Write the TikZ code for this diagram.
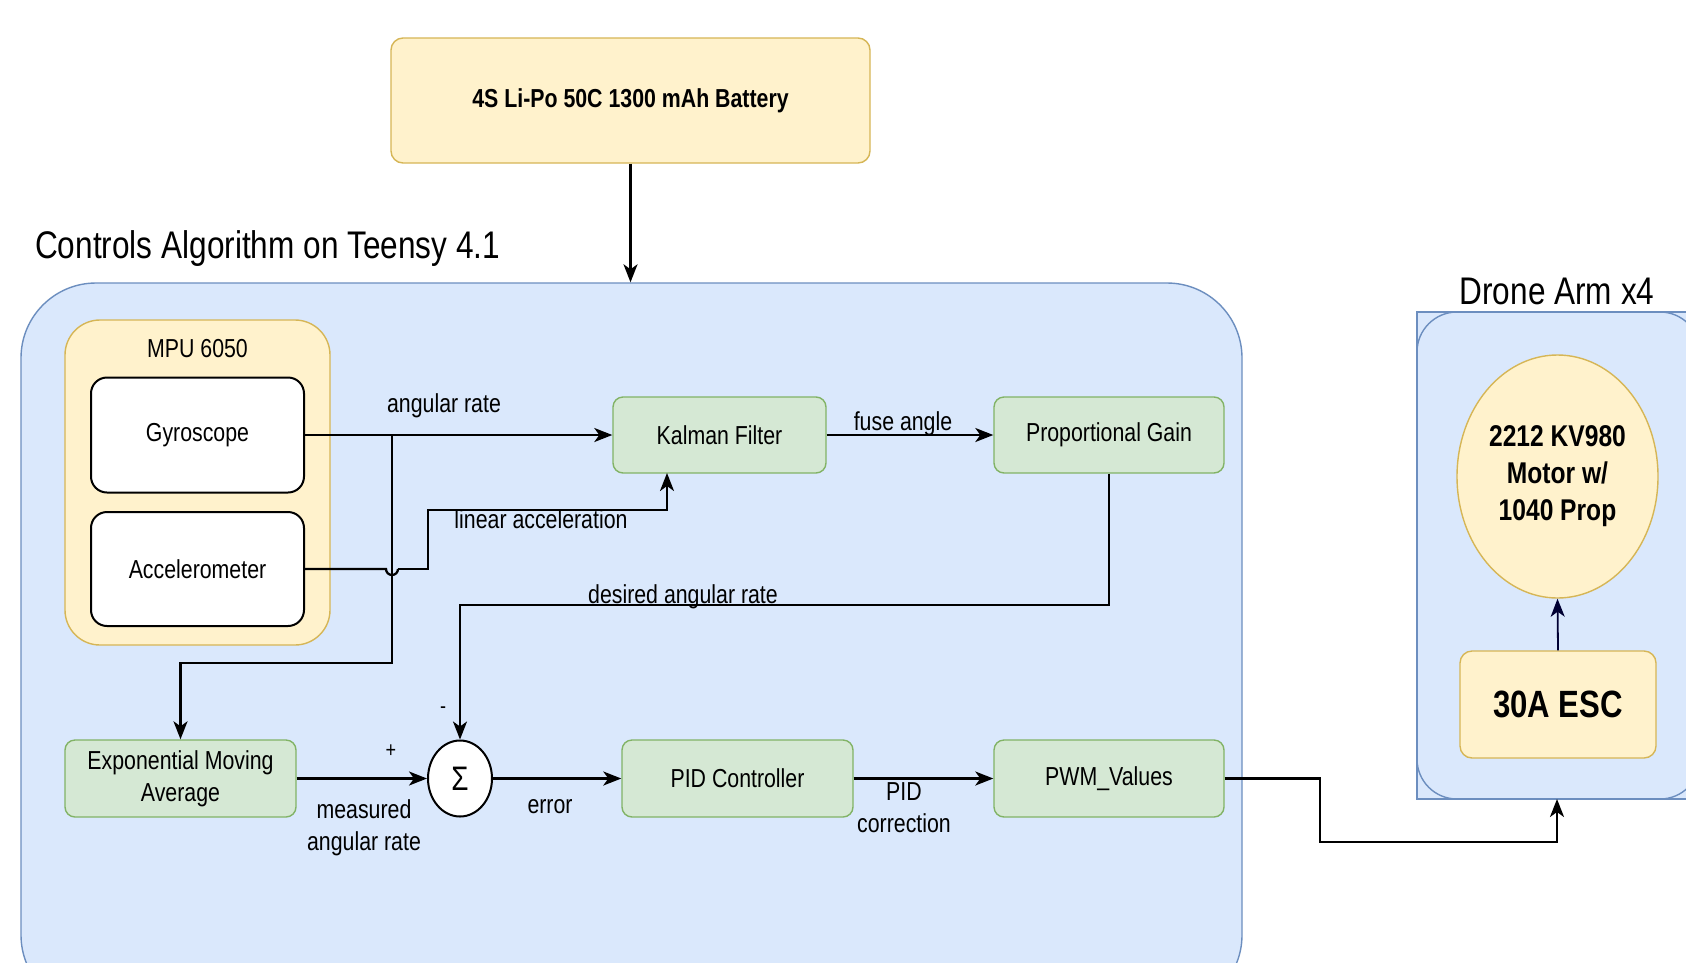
\documentclass[tikz,border=0pt]{standalone}
\usepackage{fontspec}
\setmainfont{Liberation Sans}[FakeStretch=0.82]
\usetikzlibrary{arrows.meta,shapes.geometric,calc}
\definecolor{yfill}{HTML}{FFF2CC}
\definecolor{ydraw}{HTML}{D6B656}
\definecolor{gfill}{HTML}{D5E8D4}
\definecolor{gdraw}{HTML}{82B366}
\definecolor{bfill}{HTML}{DAE8FC}
\definecolor{bdraw}{HTML}{6C8EBF}
\tikzset{
  every node/.style={font=\fontsize{26}{32}\selectfont},
  gbox/.style={draw=gdraw,fill=gfill,line width=1.4pt,rounded corners=10pt,align=center},
  ybox/.style={draw=ydraw,fill=yfill,line width=1.4pt,rounded corners=12pt,align=center},
  wbox/.style={draw=black,fill=white,line width=2pt,rounded corners=16pt},
  conn/.style={draw=black,line width=2.3pt},
  tip/.style={-{Stealth[length=18pt,width=14pt,inset=5pt]}},
  arr/.style={conn,tip},
  lbl/.style={inner sep=0pt,align=center},
}
\begin{document}
\begin{tikzpicture}[x=1pt,y=-1pt]
\useasboundingbox (0,0) rectangle (1686,962);
\clip (0,0) rectangle (1686,962);
\fill[white] (0,0) rectangle (1686,962);
% containers
\node[draw=bdraw,fill=bfill,line width=1.4pt,rounded corners=75pt,minimum width=1221pt,minimum height=727pt,inner sep=0pt] (main) at (631.5,646.5) {};
\node[lbl,anchor=west,font=\fontsize{38.5}{44}\selectfont] (maintitle) at (35,249) {Controls Algorithm on Teensy 4.1};
\node[draw=bdraw,fill=bfill,line width=1.4pt,minimum width=283pt,minimum height=487pt,inner sep=0pt] (arm) at (1558.5,555.5) {};
\draw[bdraw,line width=1.4pt,rounded corners=40pt] (1417,312) rectangle (1700,799);
\node[lbl,font=\fontsize{38.5}{44}\selectfont] (armtitle) at (1557,291) {Drone Arm x4};
% battery
\node[ybox,minimum width=479pt,minimum height=125pt,font=\bfseries\fontsize{26}{32}\selectfont] (bat) at (630.5,100.5) {4S Li-Po 50C 1300 mAh Battery};
% MPU
\node[ybox,rounded corners=35pt,minimum width=265pt,minimum height=325pt] (mpu) at (197.5,482.5) {};
\node[lbl] (mputitle) at (197.5,349) {MPU 6050};
\node[wbox,minimum width=213pt,minimum height=115pt] (gyro) at (197.5,435) {Gyroscope};
\node[wbox,minimum width=213pt,minimum height=114pt] (acc) at (197.5,569) {Accelerometer};
% blocks
\node[gbox,minimum width=213pt,minimum height=76pt] (kal) at (719.5,435) {Kalman Filter};
\node[gbox,minimum width=230pt,minimum height=76pt] (prop) at (1109,435) {Proportional Gain};
\node[gbox,minimum width=231pt,minimum height=77pt] (ema) at (180.5,778.5) {Exponential Moving\\Average};
\node[ellipse,draw=black,fill=white,line width=2pt,minimum width=64pt,minimum height=76pt,inner sep=0pt,font=\fontsize{34}{38}\selectfont] (sum) at (460,778.5) {Σ};
\node[gbox,minimum width=231pt,minimum height=77pt] (pid) at (737.5,778.5) {PID Controller};
\node[gbox,minimum width=230pt,minimum height=77pt] (pwm) at (1109,778.5) {PWM\_Values};
% drone arm content
\node[ellipse,draw=ydraw,fill=yfill,line width=1.4pt,minimum width=201pt,minimum height=243pt,inner sep=0pt,align=center,font=\bfseries\fontsize{30}{37}\selectfont] (motor) at (1557.5,476.5) {2212 KV980\\Motor w/\\1040 Prop};
\node[ybox,minimum width=196pt,minimum height=107pt,font=\bfseries\fontsize{38}{44}\selectfont] (esc) at (1558,704.5) {30A ESC};
% coordinates
\coordinate (br1) at (392,435);
\coordinate (br2) at (392,663);
\coordinate (br3) at (180.5,663);
\coordinate (hopA) at (386,569);
\coordinate (a1) at (428,569);
\coordinate (a2) at (428,510);
\coordinate (a3) at (667,510);
\coordinate (kin) at (667,473);
\coordinate (p1) at (1109,605);
\coordinate (p2) at (460,605);
\coordinate (w1) at (1320,778.5);
\coordinate (w2) at (1320,842);
\coordinate (w3) at (1557,842);
\coordinate (armin) at (1557,799);
% connectors
\draw[arr] (bat.south) -- (bat.south |- main.north);
\draw[arr] (gyro.east) -- (kal.west);
\draw[arr] (br1) -- (br2) -- (br3) -- (ema.north);
\draw[conn] (acc.east) -- (hopA) arc[start angle=180,end angle=360,radius=6pt];
\draw[arr] ($(hopA)+(12,0)$) -- (a1) -- (a2) -- (a3) -- (kin);
\draw[arr] (kal.east) -- (prop.west);
\draw[arr] (prop.south) -- (p1) -- (p2) -- (sum.north);
\draw[arr] (ema.east) -- (sum.west);
\draw[arr] (sum.east) -- (pid.west);
\draw[arr] (pid.east) -- (pwm.west);
\draw[arr] (pwm.east) -- (w1) -- (w2) -- (w3) -- (armin);
\draw[conn,tip,draw=black!80!blue,line width=1.8pt] (esc.north) -- (motor.south);
% labels
\node[lbl] (l1) at (444,406) {angular rate};
\node[lbl] (l2) at (541,519) {linear acceleration};
\node[lbl] (l3) at (903,424) {fuse angle};
\node[lbl] (l4) at (683,597) {desired angular rate};
\node[lbl,font=\fontsize{22}{26}\selectfont] (l5) at (443,710) {-};
\node[lbl,font=\fontsize{22}{26}\selectfont] (l6) at (391,751) {+};
\node[lbl] (l7) at (364,828) {measured\\angular rate};
\node[lbl] (l8) at (550,807) {error};
\node[lbl] (l9) at (904,808) {PID\\correction};
\end{tikzpicture}
\end{document}
